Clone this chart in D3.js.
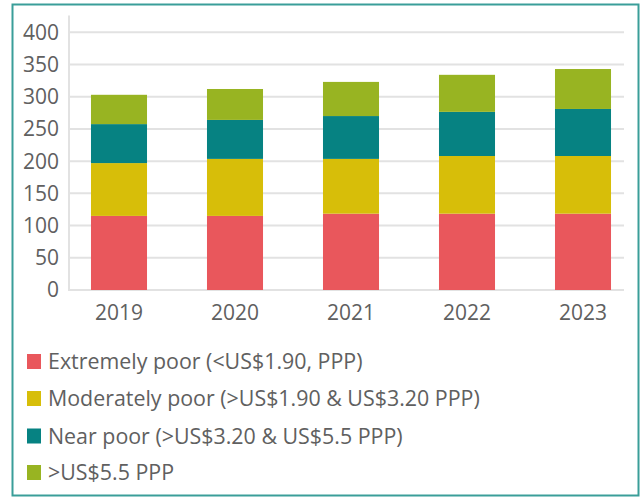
<!DOCTYPE html>
<html>
<head>
<meta charset="utf-8">
<script src="https://cdn.jsdelivr.net/npm/d3@7"></script>
<style>
  html, body { margin: 0; padding: 0; background: #fff; }
  svg { display: block; font-family: 'Open Sans', sans-serif; }
</style>
</head>
<body>
<div id="chart"></div>
<script>
(function() {
    'use strict';

    // Data (millions of people, stacked)
    const years = ['2019', '2020', '2021', '2022', '2023'];
    const extremelyPoor = [115, 115, 118.5, 118.5, 118.5];
    const moderatelyPoor = [82, 88.5, 85, 89.5, 89.5];
    const nearPoor = [60.5, 60.5, 66.5, 68.5, 73];
    const aboveFiveFive = [45.5, 48, 53, 57.5, 62];
    const seriesNames = [
        'Extremely poor (<US$1.90, PPP)',
        'Moderately poor (>US$1.90 & US$3.20 PPP)',
        'Near poor (>US$3.20 & US$5.5 PPP)',
        '>US$5.5 PPP'
    ];
    const yTicks = [0, 50, 100, 150, 200, 250, 300, 350, 400];

    const colors = ['#e9575c', '#d7be09', '#068282', '#98b422'];
    const textColor = '#606060';
    const gridColor = '#e2e2e2';

    const width = 640;
    const height = 498;

    const keys = ['s0', 's1', 's2', 's3'];
    const table = years.map((yr, i) => ({
        year: yr,
        s0: extremelyPoor[i],
        s1: moderatelyPoor[i],
        s2: nearPoor[i],
        s3: aboveFiveFive[i]
    }));
    const stacked = d3.stack().keys(keys)(table);

    const svg = d3.select('#chart')
        .append('svg')
        .attr('width', width)
        .attr('height', height);

    // Frame
    svg.append('rect')
        .attr('x', 12.5)
        .attr('y', 4.5)
        .attr('width', 626)
        .attr('height', 491)
        .attr('fill', 'none')
        .attr('stroke', '#3a9e99')
        .attr('stroke-width', 2);

    const x = d3.scaleBand()
        .domain(years)
        .range([61, 641])
        .paddingInner(0.517)
        .paddingOuter(0.2585);

    const y = d3.scaleLinear()
        .domain([0, 400])
        .range([290, 32.3]);

    const axisX = 69;
    const gridRight = 624;

    // Grid lines
    svg.append('g')
        .selectAll('line')
        .data(yTicks)
        .join('line')
        .attr('x1', axisX)
        .attr('x2', gridRight)
        .attr('y1', d => y(d))
        .attr('y2', d => y(d))
        .attr('stroke', gridColor)
        .attr('stroke-width', 2);

    // Vertical axis line
    svg.append('line')
        .attr('x1', axisX)
        .attr('x2', axisX)
        .attr('y1', y(426))
        .attr('y2', y(0) + 1)
        .attr('stroke', gridColor)
        .attr('stroke-width', 2);

    // Y tick labels
    svg.append('g')
        .selectAll('text')
        .data(yTicks)
        .join('text')
        .attr('x', 59)
        .attr('y', d => y(d))
        .attr('dy', '0.35em')
        .attr('text-anchor', 'end')
        .attr('font-size', '21px')
        .attr('fill', textColor)
        .text(d => d);

    // Bars
    svg.append('g')
        .selectAll('g')
        .data(stacked)
        .join('g')
        .attr('fill', (d, i) => colors[i])
        .selectAll('rect')
        .data(d => d)
        .join('rect')
        .attr('x', d => x(d.data.year))
        .attr('width', x.bandwidth())
        .attr('y', d => y(d[1]))
        .attr('height', d => y(d[0]) - y(d[1]));

    // X labels
    svg.append('g')
        .selectAll('text')
        .data(years)
        .join('text')
        .attr('x', d => x(d) + x.bandwidth() / 2)
        .attr('y', 320)
        .attr('text-anchor', 'middle')
        .attr('font-size', '21px')
        .attr('fill', textColor)
        .text(d => d);

    // Legend
    const legendRows = [361.5, 398.5, 436, 472.5];
    const legend = svg.append('g')
        .selectAll('g')
        .data(seriesNames)
        .join('g')
        .attr('transform', (d, i) => `translate(27,${legendRows[i]})`);

    legend.append('rect')
        .attr('x', 0)
        .attr('y', -7.5)
        .attr('width', 14)
        .attr('height', 15)
        .attr('fill', (d, i) => colors[i]);

    legend.append('text')
        .attr('x', 21)
        .attr('y', 0)
        .attr('dy', '0.35em')
        .attr('font-size', '21.4px')
        .attr('fill', textColor)
        .text(d => d);
})();
</script>
</body>
</html>
